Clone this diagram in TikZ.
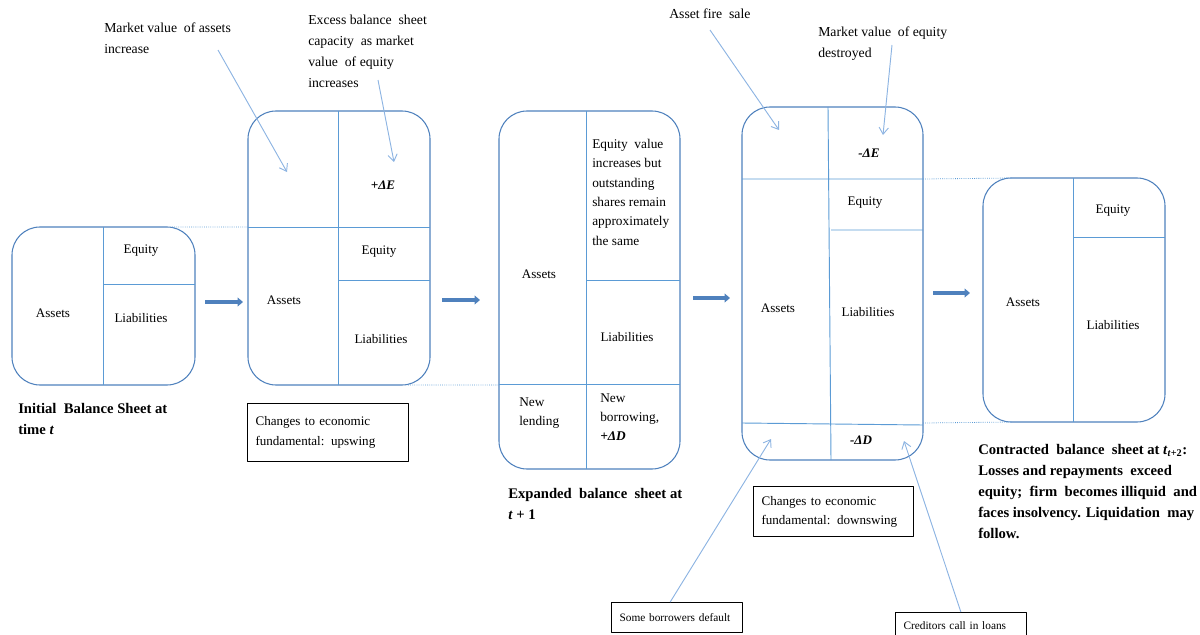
\documentclass[tikz,border=0pt]{standalone}
\usepackage{fontspec}
\setmainfont{Liberation Serif}
\usetikzlibrary{arrows.meta}
\definecolor{sheetblue}{RGB}{79,129,189}
\definecolor{lineblue}{RGB}{91,155,213}
\definecolor{noteblue}{RGB}{141,180,226}
\def\pxu{0.75pt}
\newcommand\bodyfont{\fontsize{9.8}{15}\selectfont}
\newcommand\notefont{\fontsize{10.3}{15.75}\selectfont}
\newcommand\capfont{\fontsize{11}{15.75}\selectfont\bfseries}
\tikzset{
  sheet/.style={draw=sheetblue,line width=0.8pt,rounded corners=21pt,inner sep=0pt,outer sep=0pt,anchor=north west},
  divider/.style={draw=lineblue,line width=0.7pt},
  bridge/.style={draw=lineblue,line width=0.6pt,densely dotted},
  cue/.style={draw=noteblue,line width=0.7pt,-{Straight Barb[length=5pt,width=7pt]}},
  push/.style={draw=sheetblue,line width=3pt,-{Triangle[length=4pt,width=6.5pt]}},
  notebox/.style={draw,line width=0.8pt,anchor=north west,align=left,inner xsep=6pt,inner ysep=0pt},
  cell/.style={inner sep=0pt},
  txt/.style={inner sep=0pt,anchor=north west,align=left}
}
\begin{document}
\begin{tikzpicture}[x=0.75pt,y=-0.75pt,line join=round,font=\bodyfont]
\useasboundingbox (0,0) rectangle (1200,635);
% balance sheets
\node[sheet,minimum width=183*\pxu,minimum height=158*\pxu] (s1) at (12,227) {};
\node[sheet,minimum width=182*\pxu,minimum height=274*\pxu] (s2) at (248,111) {};
\node[sheet,minimum width=181*\pxu,minimum height=358*\pxu] (s3) at (499,111) {};
\node[sheet,minimum width=181*\pxu,minimum height=353*\pxu] (s4) at (742,107) {};
\node[sheet,minimum width=182*\pxu,minimum height=244*\pxu] (s5) at (983,178) {};
\draw[divider] (103,227)--(103,385) (103,284)--(195,284);
\draw[divider] (338,111)--(338,385) (248,227)--(430,227) (338,280)--(430,280);
\draw[divider] (586,111)--(586,469) (586,280)--(680,280) (499,384)--(680,384);
\draw[divider] (828,107)--(831,460) (742,179)--(923,179) (831,230)--(923,230) (742,423)--(923,425);
\draw[divider] (1073,178)--(1073,422) (1073,237)--(1165,237);
\draw[bridge] (172,227)--(248,227) (408,385)--(499,385) (923,179)--(1012,178) (923,423)--(1012,422);
\foreach \x/\y/\t [count=\i] in {
  53/313/Assets,141/251/Equity,141/318/Liabilities,
  284/300/Assets,383/185/{\bfseries\itshape +ΔE},379/252/Equity,381/339/Liabilities,
  539/274/Assets,627/337/Liabilities,
  778/308/Assets,869/153/{\bfseries\itshape -ΔE},865/203/Equity,868/312/Liabilities,861/440/{\bfseries\itshape -ΔD},
  1023/302/Assets,1113/211/Equity,1113/325/Liabilities}
  \node[cell] (cell\i) at (\x,\y) {\t};
\node[txt,font=\fontsize{10}{14.5}\selectfont] (eqnote) at (592,139)
  {Equity~ value\\increases but\\outstanding\\shares remain\\approximately\\the same};
\node[txt,font=\fontsize{10}{14.25}\selectfont] (lend) at (519,398) {New\\lending};
\node[txt,font=\fontsize{10}{14.25}\selectfont] (borrow) at (600,394) {New\\borrowing,\\{\bfseries\itshape +ΔD}};
% moves between sheets
\foreach \a/\b/\y [count=\i] in {205/243/302,442/480/300,693/730/298,933/970/293}{
  \path (\a,\y) coordinate (pa\i) (\b,\y) coordinate (pb\i);
  \draw[push] (pa\i)--(pb\i);
}
% captions
\node[txt,font=\capfont] (cap1) at (18,403) {Initial~ Balance Sheet at\\time \textit{t}};
\node[txt,font=\capfont] (cap2) at (508,488) {Expanded~ balance~ sheet at\\\textit{t} + 1};
\node[txt,font=\capfont] (cap3) at (978,444)
  {Contracted~ balance~ sheet at \textit{t}\textsubscript{\textit{t}+2}:\\Losses and repayments~ exceed\\equity;~ firm~ becomes illiquid~ and\\faces insolvency. Liquidation~ may\\follow.};
\node[notebox,text width=108.75pt,minimum height=58*\pxu] (up) at (247,403) {Changes to economic\\fundamental: upswing};
\node[notebox,text width=108pt,minimum height=50*\pxu,font=\fontsize{9.8}{14.25}\selectfont] (down) at (753,486) {Changes to economic\\fundamental: downswing};
\node[notebox,text width=86pt,minimum height=30*\pxu,font=\fontsize{8.5}{10}\selectfont] (bd) at (611,602) {Some borrowers default};
\node[notebox,text width=86pt,minimum height=27*\pxu,font=\fontsize{8.5}{10}\selectfont] (cc) at (895,612) {Creditors call in loans};
% notes
\node[txt,font=\notefont] (n1) at (104,23) {Market value~ of assets\\increase};
\node[txt,font=\notefont] (n2) at (308,15) {Excess balance~ sheet\\capacity~ as market\\value~ of equity\\increases};
\node[txt,font=\notefont,anchor=west] (n3) at (669,14) {Asset fire~ sale};
\node[txt,font=\notefont] (n4) at (818,27) {Market value~ of equity\\destroyed};
\path (218,50) coordinate (mva0) (287,172) coordinate (mva1)
  (378,80) coordinate (xs0) (394,162) coordinate (xs1)
  (710,30) coordinate (fs0) (779,130) coordinate (fs1)
  (892,45) coordinate (mve0) (883,135) coordinate (mve1)
  (771,439) coordinate (bd1) (904,441) coordinate (cc1);
\draw[cue] (mva0)--(mva1);
\draw[cue] (xs0)--(xs1);
\draw[cue] (fs0)--(fs1);
\draw[cue] (mve0)--(mve1);
\draw[cue] ([xshift=-5pt]bd.north)--(bd1);
\draw[cue] (cc.north)--(cc1);
\end{tikzpicture}
\end{document}
